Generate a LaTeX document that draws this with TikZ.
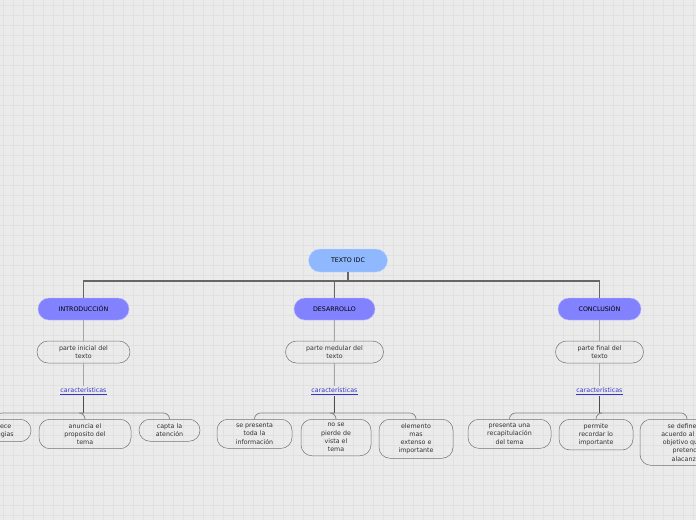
\documentclass[tikz,border=0pt]{standalone}
\usepackage{fontspec}
\setmainfont{DejaVu Sans}
\definecolor{paper}{HTML}{EBEBEB}
\definecolor{gridgray}{HTML}{E1E1E1}
\definecolor{rootblue}{HTML}{8FB8FF}
\definecolor{mainblue}{HTML}{8282FF}
\definecolor{linkblue}{HTML}{3535CC}
\definecolor{textgray}{HTML}{333333}
\begin{document}
\begin{tikzpicture}[
	x=1pt, y=-1pt,
	font=\fontsize{6.3}{8.3}\selectfont,
	rootnode/.style={rectangle, rounded corners=11.5pt, fill=rootblue, draw=rootblue!60!white, minimum width=79pt, minimum height=23pt},
	mainnode/.style={rectangle, rounded corners=11pt, fill=mainblue, draw=mainblue!60!white, minimum height=22pt},
	infonode/.style={rectangle, rounded corners=11pt, draw=black!55, line width=0.5pt, text=textgray, align=center, inner ysep=4pt, minimum height=22pt},
	linknode/.style={text=linkblue, inner sep=1pt},
	rootline/.style={draw=black!60, line width=1.3pt},
	stemline/.style={draw=black!35, line width=0.8pt},
	darkline/.style={draw=black!70, line width=0.9pt},
	bracketline/.style={draw=black!50, line width=0.7pt, rounded corners=6pt}
]

% fondo
\useasboundingbox (0,0) rectangle (696,520);
\clip (0,0) rectangle (696,520);
\fill[paper] (0,0) rectangle (696,520);
\foreach \gx in {3,13,...,693} \draw[gridgray, line width=0.4pt] (\gx,0) -- (\gx,520);
\foreach \gy in {5,15,...,515} \draw[gridgray, line width=0.4pt] (0,\gy) -- (696,\gy);

% raiz
\node[rootnode] (root) at (348,260.5) {TEXTO IDC};
\coordinate (rj) at (348,281);

% partes
\node[mainnode, minimum width=91pt] (intro) at (83.5,309) {INTRODUCCIÓN};
\node[mainnode, minimum width=81pt] (desa) at (334.5,309) {DESARROLLO};
\node[mainnode, minimum width=83pt] (concl) at (599.5,309) {CONCLUSIÓN};

\node[infonode, minimum width=93pt] (def1) at (83.5,352) {parte inicial del\\texto};
\node[infonode, minimum width=98pt] (def2) at (334.5,352) {parte medular del\\texto};
\node[infonode, minimum width=88pt] (def3) at (599.5,352) {parte final del\\texto};

\node[linknode] (car1) at (83.5,391) {\underline{características}};
\node[linknode] (car2) at (334.5,391) {\underline{características}};
\node[linknode] (car3) at (599.5,391) {\underline{características}};

\coordinate (b1) at (83.5,413);
\coordinate (b2) at (334.5,413);
\coordinate (b3) at (599.5,413);

% hojas
\node[infonode, anchor=north, minimum width=70pt] (h11) at (-4,419) {establece\\estrategias};
\node[infonode, anchor=north, minimum width=92pt] (h12) at (85,419) {anuncia el\\proposito del\\tema};
\node[infonode, anchor=north, minimum width=61pt] (h13) at (169.5,419) {capta la\\atención};

\node[infonode, anchor=north, minimum width=75pt] (h21) at (254.5,419) {se presenta\\toda la\\información};
\node[infonode, anchor=north, minimum width=70pt] (h22) at (336,419) {no se\\pierde de\\vista el\\tema};
\node[infonode, anchor=north, minimum width=74pt] (h23) at (416,419) {elemento\\mas\\extenso e\\importante};

\node[infonode, anchor=north, minimum width=83pt] (h31) at (509.5,419) {presenta una\\recapitulación\\del tema};
\node[infonode, anchor=north, minimum width=74pt] (h32) at (596,419) {permite\\recordar lo\\importante};
\node[infonode, anchor=north, minimum width=94pt] (h33) at (687,419) {se define de\\acuerdo al tema\\objetivo que se\\pretende\\alacanzar};

% conexiones
\draw[rootline] (root.south) -- (rj);
\draw[rootline] (rj) -| (intro.north);
\draw[rootline] (rj) -| (desa.north);
\draw[rootline] (rj) -| (concl.north);

\foreach \i/\m in {1/intro,2/desa,3/concl} {
	\draw[stemline] (\m.south) -- (def\i.north);
	\draw[stemline] (def\i.south) -- (car\i.north);
	\draw[darkline] (car\i.south) -- (b\i);
	\foreach \j in {1,2,3}
		\draw[bracketline] (b\i) -| (h\i\j.north);
}

\end{tikzpicture}
\end{document}
